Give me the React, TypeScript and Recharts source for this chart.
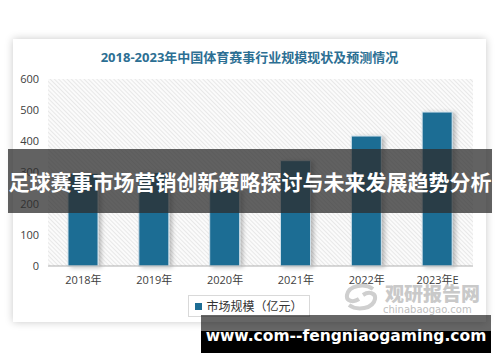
import { BarChart, Bar, XAxis, YAxis, CartesianGrid, Legend } from 'recharts';

const years = ['2018年', '2019年', '2020年', '2021年', '2022年', '2023年E'];
const marketSize = [297, 300, 244, 338, 417, 494];
const yTicks = [0, 100, 200, 300, 400, 500, 600];

const data = years.map((year, i) => ({ year, value: marketSize[i] }));

const BAR_COLOR = '#1d6d94';
const cjk = "'Open Sans', 'Noto Sans CJK SC', sans-serif";

function ShadowBar(props: any) {
  const { x, y, width, height } = props;
  if (!height || height <= 0) return null;
  return (
    <rect
      x={x}
      y={y}
      width={width}
      height={height}
      fill={BAR_COLOR}
      stroke="#cfe0ea"
      strokeWidth={1}
      filter="url(#barShadow)"
    />
  );
}

function LegendBox() {
  return (
    <div
      style={{
        width: 120,
        height: 20,
        border: '1px solid #d9d9d9',
        background: '#fff',
        display: 'flex',
        alignItems: 'center',
        justifyContent: 'center',
        fontFamily: cjk,
        fontSize: 12,
        color: '#333',
      }}
    >
      <span style={{ width: 7, height: 7, background: BAR_COLOR, marginRight: 4, display: 'inline-block' }} />
      市场规模（亿元）
    </div>
  );
}

export default function App() {
  return (
    <div style={{ position: 'absolute', left: 0, top: 0, width: 500, height: 362, background: '#fff', overflow: 'hidden' }}>
      {/* card */}
      <div
        style={{
          position: 'absolute',
          left: 13,
          top: 39,
          width: 473,
          height: 283,
          background: '#fff',
          boxShadow: '0 0 8px rgba(0,0,0,0.22)',
        }}
      />
      <div
        style={{
          position: 'absolute',
          left: 13,
          top: 47,
          width: 473,
          textAlign: 'center',
          fontFamily: cjk,
          fontWeight: 700,
          fontSize: 13,
          color: '#2c6f93',
        }}
      >
        2018-2023年中国体育赛事行业规模现状及预测情况
      </div>

      <div style={{ position: 'absolute', left: 0, top: 0 }}>
        <BarChart width={500} height={362} data={data} margin={{ top: 79, right: 27, bottom: 66, left: 0 }}>
          <defs>
            <pattern id="hatch" patternUnits="userSpaceOnUse" width={3} height={3} patternTransform="rotate(-45)">
              <rect width={3} height={3} fill="#fbfbfb" />
              <line x1={0} y1={0} x2={0} y2={3} stroke="#dcdcdc" strokeWidth={1.2} />
            </pattern>
            <filter id="barShadow" x="-20%" y="-10%" width="160%" height="130%">
              <feDropShadow dx={3} dy={1} stdDeviation={2} floodColor="#000" floodOpacity={0.25} />
            </filter>
          </defs>
          <CartesianGrid horizontal={false} vertical={false} fill="url(#hatch)" stroke="none" />
          <XAxis
            dataKey="year"
            height={30}
            tickLine={false}
            tickSize={0}
            tickMargin={10}
            axisLine={{ stroke: '#b0b0b0' }}
            tick={{ fill: '#404040', fontSize: 11, fontFamily: cjk }}
            interval={0}
          />
          <YAxis
            width={48}
            domain={[0, 600]}
            ticks={yTicks}
            axisLine={false}
            tickLine={false}
            tickSize={0}
            tickMargin={9}
            tick={{ fill: '#404040', fontSize: 11, fontFamily: cjk }}
          />
          <Legend
            layout="horizontal"
            verticalAlign="middle"
            align="center"
            content={<LegendBox />}
            wrapperStyle={{ position: 'absolute', left: 188, top: 295, width: 122, height: 22 }}
          />
          <Bar dataKey="value" name="市场规模（亿元）" barSize={30} shape={<ShadowBar />} isAnimationActive={false} />
        </BarChart>
      </div>

      {/* watermark */}
      <svg style={{ position: 'absolute', left: 343, top: 283 }} width={36} height={28}>
        <path d="M30 6 C22 0 6 2 4 12 C3 18 10 20 16 16" fill="none" stroke="#cfcfcf" strokeWidth={4} />
        <path d="M6 22 C14 28 30 26 32 16 C33 10 26 8 20 12" fill="none" stroke="#cfcfcf" strokeWidth={4} />
      </svg>
      <div
        style={{
          position: 'absolute',
          left: 385,
          top: 283,
          fontFamily: "'Noto Sans CJK SC', sans-serif",
          fontWeight: 900,
          fontSize: 19,
          color: '#c9c9c9',
          lineHeight: '20px',
        }}
      >
        观研报告网
      </div>
      <div
        style={{
          position: 'absolute',
          left: 383,
          top: 304,
          fontFamily: "'DejaVu Sans', sans-serif",
          fontSize: 10,
          color: '#c0c0c0',
          lineHeight: '11px',
        }}
      >
        chinabaogao.com
      </div>

      {/* overlay banner */}
      <div
        style={{
          position: 'absolute',
          left: 8,
          top: 149,
          width: 484,
          height: 64,
          background: 'rgba(45,45,45,0.75)',
          display: 'flex',
          alignItems: 'center',
          justifyContent: 'center',
          fontFamily: "'Noto Sans CJK SC', sans-serif",
          fontWeight: 700,
          fontSize: 21,
          color: '#fff',
          whiteSpace: 'nowrap',
        }}
      >
        足球赛事市场营销创新策略探讨与未来发展趋势分析
      </div>

      {/* bottom banner */}
      <div style={{ position: 'absolute', left: 201, top: 315, width: 290, height: 16, background: 'rgba(0,0,0,0.6)' }} />
      <div
        style={{
          position: 'absolute',
          left: 201,
          top: 331,
          width: 290,
          height: 22,
          background: '#000',
        }}
      />
      <div
        style={{
          position: 'absolute',
          left: 201,
          top: 324,
          width: 290,
          height: 24,
          lineHeight: '24px',
          textAlign: 'center',
          fontFamily: "'DejaVu Sans', sans-serif",
          fontWeight: 700,
          fontSize: 15.5,
          color: '#fff',
          whiteSpace: 'nowrap',
        }}
      >
        www.com--fengniaogaming.com
      </div>
    </div>
  );
}
